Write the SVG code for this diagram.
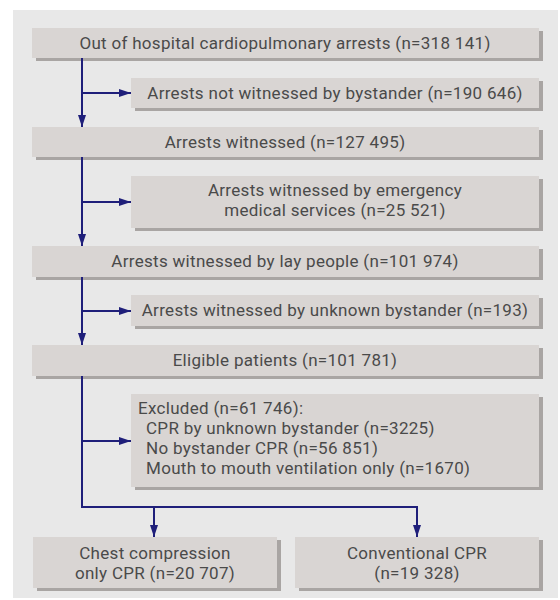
<svg xmlns="http://www.w3.org/2000/svg" width="560" height="600" viewBox="0 0 560 600">
<defs>
<marker id="ah" viewBox="0 0 12 10" refX="12" refY="5" markerWidth="12" markerHeight="10" markerUnits="userSpaceOnUse" orient="auto">
<path d="M0,1 L12,5 L0,9 Z" fill="#1f1f7a"/>
</marker>
</defs>
<style>
.sh{fill:#a9a5a3}
.bx{fill:#d9d5d3}
text{font-family:Roboto,"Liberation Sans",sans-serif;font-size:17px;letter-spacing:0.3px;fill:#4a4a4a}
.c{text-anchor:middle}
.ln{stroke:#1f1f7a;stroke-width:2;fill:none}
</style>
<rect x="13" y="10" width="545" height="588" fill="#e8e8e8"/>
<g id="n1"><rect class="sh" x="36" y="31" width="507" height="30"/><rect class="bx" x="32" y="28" width="507" height="30"/><text class="c" x="285" y="49">Out of hospital cardiopulmonary arrests (n=318 141)</text></g>
<g id="n2"><rect class="sh" x="135" y="81" width="408" height="30"/><rect class="bx" x="131" y="78" width="408" height="30"/><text class="c" x="335" y="99">Arrests not witnessed by bystander (n=190 646)</text></g>
<g id="n3"><rect class="sh" x="36" y="130" width="507" height="30"/><rect class="bx" x="32" y="127" width="507" height="30"/><text class="c" x="285" y="148">Arrests witnessed (n=127 495)</text></g>
<g id="n4"><rect class="sh" x="135" y="179" width="408" height="52"/><rect class="bx" x="131" y="176" width="408" height="52"/><text class="c" x="335" y="196">Arrests witnessed by emergency</text><text class="c" x="335" y="216">medical services (n=25 521)</text></g>
<g id="n5"><rect class="sh" x="36" y="249" width="507" height="31"/><rect class="bx" x="32" y="246" width="507" height="31"/><text class="c" x="285" y="267">Arrests witnessed by lay people (n=101 974)</text></g>
<g id="n6"><rect class="sh" x="135" y="298" width="408" height="31"/><rect class="bx" x="131" y="295" width="408" height="31"/><text class="c" x="335" y="316">Arrests witnessed by unknown bystander (n=193)</text></g>
<g id="n7"><rect class="sh" x="36" y="348" width="507" height="31"/><rect class="bx" x="32" y="345" width="507" height="31"/><text class="c" x="285" y="366">Eligible patients (n=101 781)</text></g>
<g id="n8"><rect class="sh" x="135" y="397" width="408" height="93"/><rect class="bx" x="131" y="394" width="408" height="93"/>
<text x="138" y="414">Excluded (n=61 746):</text>
<text x="146" y="434">CPR by unknown bystander (n=3225)</text>
<text x="146" y="454">No bystander CPR (n=56 851)</text>
<text x="146" y="474">Mouth to mouth ventilation only (n=1670)</text></g>
<g id="n9"><rect class="sh" x="37" y="540" width="244" height="51"/><rect class="bx" x="33" y="537" width="244" height="51"/><text class="c" x="155" y="559">Chest compression</text><text class="c" x="155" y="579">only CPR (n=20 707)</text></g>
<g id="n10"><rect class="sh" x="299" y="540" width="244" height="51"/><rect class="bx" x="295" y="537" width="244" height="51"/><text class="c" x="417" y="559">Conventional CPR</text><text class="c" x="417" y="579">(n=19 328)</text></g>
<g id="connectors">
<path class="ln" d="M82,58 V127" marker-end="url(#ah)"/>
<path class="ln" d="M82,93 H131" marker-end="url(#ah)"/>
<path class="ln" d="M82,157 V246" marker-end="url(#ah)"/>
<path class="ln" d="M82,202 H131" marker-end="url(#ah)"/>
<path class="ln" d="M82,277 V345" marker-end="url(#ah)"/>
<path class="ln" d="M82,311 H131" marker-end="url(#ah)"/>
<path class="ln" d="M82,376 V507 H417 V537" marker-end="url(#ah)"/>
<path class="ln" d="M82,441 H131" marker-end="url(#ah)"/>
<path class="ln" d="M154,507 V537" marker-end="url(#ah)"/>
</g>
</svg>
